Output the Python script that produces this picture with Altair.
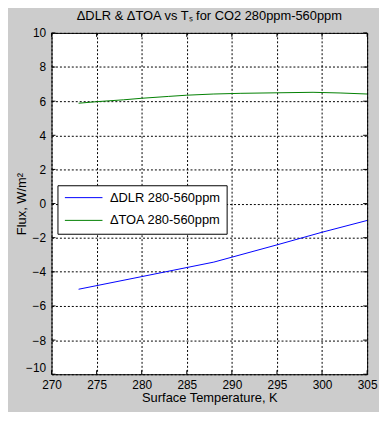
import altair as alt
import pandas as pd

title_text = "ΔDLR & ΔTOA vs Tₛ for CO2 280ppm-560ppm"
x_title = "Surface Temperature, K"
y_title = "Flux, W/m²"
series_names = ["ΔDLR 280-560ppm", "ΔTOA 280-560ppm"]
series_colors = ["#0000ff", "#008000"]

dlr_ts = [273, 280, 288, 295, 300, 305]
dlr_vals = [-5.02, -4.28, -3.43, -2.42, -1.68, -0.99]

toa_ts = [273, 275, 278, 280, 283, 285, 288, 291, 295, 299, 302, 305]
toa_vals = [5.88, 5.97, 6.08, 6.17, 6.28, 6.35, 6.42, 6.46, 6.49, 6.52, 6.48, 6.42]

x_ticks = [270, 275, 280, 285, 290, 295, 300, 305]
y_ticks = [-10, -8, -6, -4, -2, 0, 2, 4, 6, 8, 10]

W, H = 319, 345
FONT = "Liberation Sans"
TICK = 4

rows = []
for t, v in zip(dlr_ts, dlr_vals):
    rows.append({"T": t, "flux": v, "series": series_names[0]})
for t, v in zip(toa_ts, toa_vals):
    rows.append({"T": t, "flux": v, "series": series_names[1]})
df = pd.DataFrame(rows)

xs = alt.Scale(domain=[x_ticks[0], x_ticks[-1]], nice=False, zero=False)
ys = alt.Scale(domain=[y_ticks[0], y_ticks[-1]], nice=False, zero=False)

x_axis = alt.Axis(values=x_ticks, title=x_title, ticks=False, domain=False, grid=True,
                  gridColor="black", gridDash=[2, 2], gridOpacity=1, gridWidth=1,
                  labelFont=FONT, labelFontSize=12, labelColor="black", labelPadding=5,
                  labelFlush=False, labelOverlap=False,
                  titleFont=FONT, titleFontSize=13, titleFontWeight="normal",
                  titleColor="black", titlePadding=2)
y_axis = alt.Axis(values=y_ticks, title=y_title, ticks=False, domain=False, grid=True,
                  gridColor="black", gridDash=[2, 2], gridOpacity=1, gridWidth=1,
                  labelFont=FONT, labelFontSize=12, labelColor="black", labelPadding=6,
                  labelFlush=False, labelOverlap=False,
                  labelBaseline=alt.condition("datum.value == -10",
                                              alt.value("bottom"), alt.value("middle")),
                  titleFont=FONT, titleFontSize=13, titleFontWeight="normal",
                  titleColor="black", titlePadding=-3)

lines = alt.Chart(df).mark_line(strokeWidth=1, clip=True).encode(
    x=alt.X("T:Q", scale=xs, axis=x_axis),
    y=alt.Y("flux:Q", scale=ys, axis=y_axis),
    color=alt.Color("series:N",
                    scale=alt.Scale(domain=series_names, range=series_colors),
                    legend=alt.Legend(title=None, orient="none", legendX=6, legendY=154,
                                      strokeColor="black", fillColor="white", padding=6,
                                      symbolType="M-1,0H6.6", symbolSize=100,
                                      symbolStrokeWidth=1, labelFont=FONT,
                                      labelFontSize=13, labelColor="black",
                                      labelExpr="datum.label + '    '",
                                      labelOffset=34, rowPadding=9, cornerRadius=0)),
    detail="series:N",
)

xt = pd.DataFrame({"T": x_ticks})
yt = pd.DataFrame({"flux": y_ticks})

xb = alt.Chart(xt).mark_rule(color="black", strokeWidth=1).encode(
    x=alt.X("T:Q", scale=xs, axis=x_axis), y=alt.value(H), y2=alt.value(H - TICK))
xtop = alt.Chart(xt).mark_rule(color="black", strokeWidth=1).encode(
    x=alt.X("T:Q", scale=xs, axis=x_axis), y=alt.value(0), y2=alt.value(TICK))
yl = alt.Chart(yt).mark_rule(color="black", strokeWidth=1).encode(
    y=alt.Y("flux:Q", scale=ys, axis=y_axis), x=alt.value(0), x2=alt.value(TICK))
yr = alt.Chart(yt).mark_rule(color="black", strokeWidth=1).encode(
    y=alt.Y("flux:Q", scale=ys, axis=y_axis), x=alt.value(W), x2=alt.value(W - TICK))

chart = alt.layer(lines, xb, xtop, yl, yr).properties(
    width=W, height=H,
    title=alt.TitleParams(title_text, font=FONT, fontSize=13, fontWeight="normal",
                          color="black", anchor="middle", frame="group",
                          baseline="alphabetic", offset=-6),
    background="#cccccc",
    padding={"left": 44, "top": 23, "right": 12, "bottom": 36},
    autosize=alt.AutoSizeParams(type="none"),
).configure_view(stroke="black", strokeWidth=1, fill="white")

chart.save("out.html", embed_options={"renderer": "svg", "actions": False})
